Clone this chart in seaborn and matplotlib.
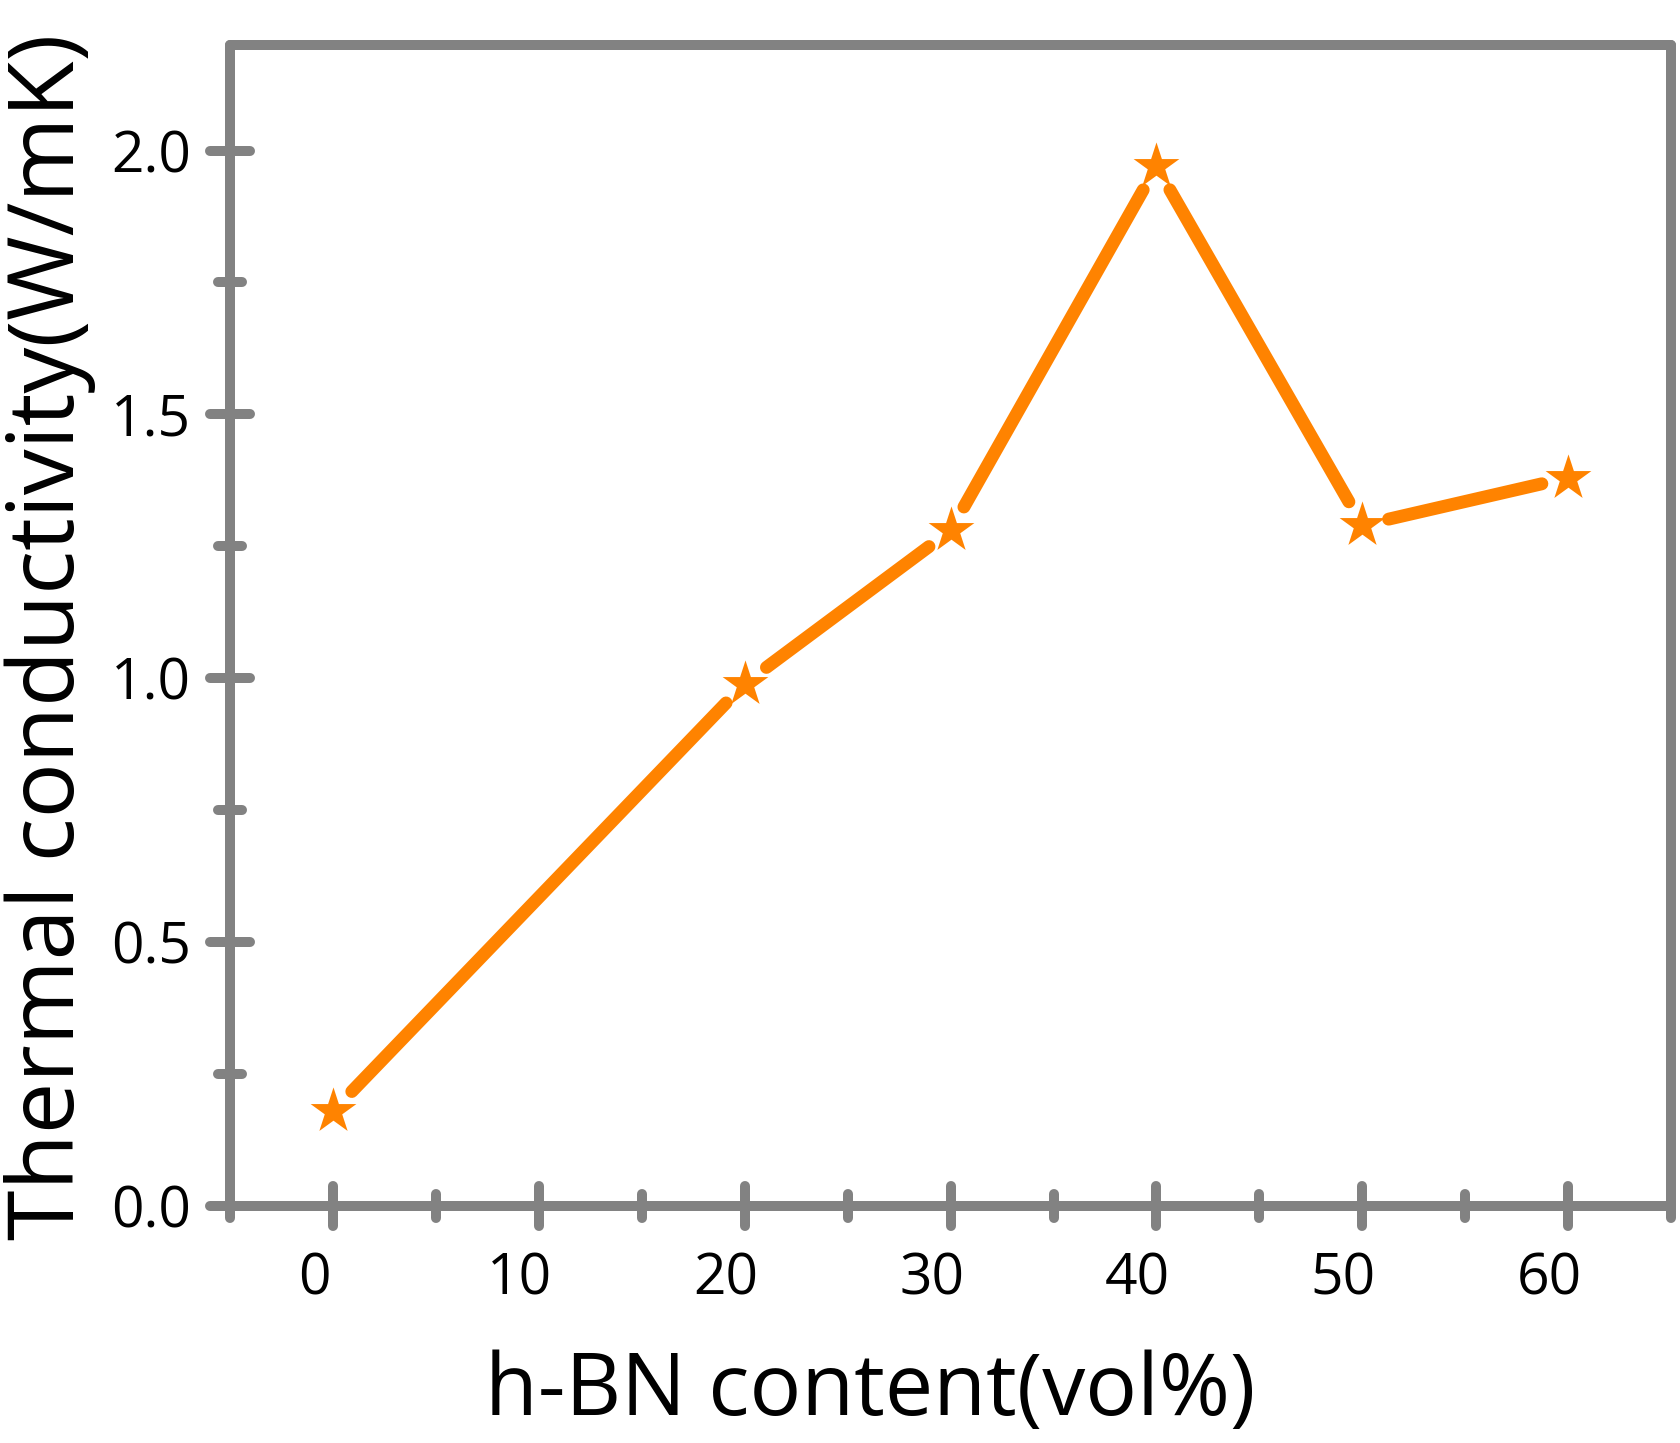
import numpy as np
import pandas as pd
import matplotlib
matplotlib.use("Agg")
import matplotlib.pyplot as plt
from matplotlib.markers import MarkerStyle
from matplotlib.ticker import MultipleLocator, FormatStrFormatter
from matplotlib.transforms import ScaledTranslation
import seaborn as sns

# data
hbn_content = [0, 20, 30, 40, 50, 60]
conductivity = [0.18, 0.99, 1.28, 1.97, 1.29, 1.38]

x_label = "h-BN content(vol%)"
y_label = "Thermal conductivity(W/mK)"

ORANGE = "#FF8300"
GRAY = "#828282"

sns.set_style("white")
plt.rcParams["font.family"] = ["Open Sans", "DejaVu Sans"]
plt.rcParams["text.color"] = "black"
plt.rcParams["axes.labelcolor"] = "black"

fig = plt.figure(figsize=(16.8, 14.43), dpi=100)
ax = fig.add_axes([0.137, 0.1643, 0.8577, 0.8045])
ax.set_xlim(-5, 65)
ax.set_ylim(0, 2.2)

# line segments stop short of each star, like the original
trans = ax.transData
pts = trans.transform(np.column_stack([hbn_content, conductivity]))
gap = 27  # px
rows = []
for i in range(len(pts) - 1):
    p0, p1 = pts[i], pts[i + 1]
    u = (p1 - p0) / np.hypot(*(p1 - p0))
    a, b = trans.inverted().transform([p0 + u * gap, p1 - u * gap])
    rows.append({"x": a[0], "y": a[1], "seg": i})
    rows.append({"x": b[0], "y": b[1], "seg": i})
segs = pd.DataFrame(rows)

sns.lineplot(data=segs, x="x", y="y", units="seg", estimator=None, sort=False,
             color=ORANGE, linewidth=9.3, solid_capstyle="round",
             legend=False, ax=ax, zorder=2)
sns.scatterplot(x=hbn_content, y=conductivity, marker="*", s=1200,
                color=ORANGE, linewidth=0, legend=False, ax=ax, zorder=3)

ax.set_xlim(-5, 65)
ax.set_ylim(0, 2.2)
ax.xaxis.set_major_locator(MultipleLocator(10))
ax.xaxis.set_minor_locator(MultipleLocator(5))
ax.yaxis.set_major_locator(MultipleLocator(0.5))
ax.yaxis.set_minor_locator(MultipleLocator(0.25))
ax.yaxis.set_major_formatter(FormatStrFormatter("%.1f"))

for sp in ax.spines.values():
    sp.set_color(GRAY)
    sp.set_linewidth(7.2)
    sp.set_capstyle("round")

ax.tick_params(axis="both", which="both", bottom=True, left=True,
               top=False, right=False)
ax.tick_params(axis="both", which="major", direction="inout", length=28.8,
               width=7.2, color=GRAY, labelsize=41, labelcolor="black")
ax.tick_params(axis="both", which="minor", direction="inout", length=16.6,
               width=7.2, color=GRAY)
ax.tick_params(axis="y", which="major", pad=13.7)
ax.tick_params(axis="x", which="major", pad=18.7)

ticks = (ax.xaxis.get_major_ticks() + ax.xaxis.get_minor_ticks()
         + ax.yaxis.get_major_ticks() + ax.yaxis.get_minor_ticks())
for t in ticks:
    t.tick1line.set_marker(MarkerStyle(t.tick1line.get_marker(), capstyle="round"))

ax.set_xlabel(x_label, fontsize=62, color="black")
ax.set_ylabel(y_label, fontsize=66, color="black")
ax.xaxis.set_label_coords(0.444, -0.124)
ax.yaxis.set_label_coords(-0.093, 0.49)

# x tick labels sit a little left of their ticks in the original
shift = ScaledTranslation(-0.19, 0, fig.dpi_scale_trans)
for lab in ax.get_xticklabels():
    lab.set_transform(lab.get_transform() + shift)

fig.savefig("out.png", dpi=100)
